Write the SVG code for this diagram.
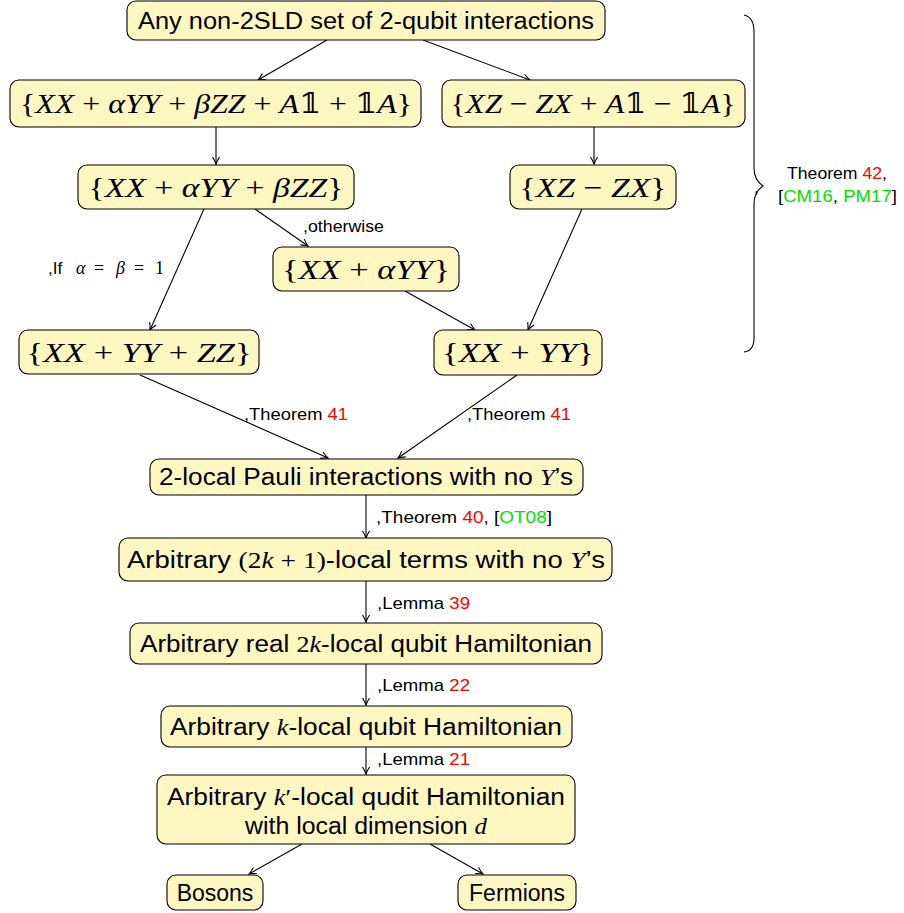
<svg xmlns="http://www.w3.org/2000/svg" width="904" height="913" viewBox="0 0 904 913">
<defs>
<style>
.box{fill:#fff7c2;stroke:#000;stroke-width:1.1}
.t{font-family:"Liberation Sans","DejaVu Sans",sans-serif;font-size:23px;fill:#000;text-anchor:middle}
.m{font-family:"Liberation Serif","DejaVu Serif",serif;font-size:28px;fill:#000;text-anchor:middle}
.i{font-style:italic}
.l{font-family:"Liberation Sans","DejaVu Sans",sans-serif;font-size:17px;fill:#000}
.r{fill:#ff0000}
.g{fill:#00e000}
.c{stroke:#000;stroke-width:1.1;fill:none;marker-end:url(#ah)}
</style>
<marker id="ah" viewBox="-8 -5 10 10" refX="0" refY="0" markerWidth="10" markerHeight="10" markerUnits="userSpaceOnUse" orient="auto">
<path d="M-7,-3.5 Q-3,-1 0,0 Q-3,1 -7,3.5" fill="none" stroke="#000" stroke-width="1.1"/>
</marker>
</defs>
<rect width="904" height="913" fill="#fff"/>

<g id="connectors">
<line class="c" x1="327" y1="40" x2="258" y2="80"/>
<line class="c" x1="423" y1="40" x2="530" y2="80"/>
<line class="c" x1="216" y1="127" x2="216" y2="164"/>
<line class="c" x1="594" y1="127" x2="594" y2="164"/>
<line class="c" x1="204" y1="209" x2="150" y2="330"/>
<line class="c" x1="255" y1="209" x2="308" y2="246"/>
<line class="c" x1="582" y1="209" x2="528" y2="330"/>
<line class="c" x1="405" y1="291" x2="475" y2="330"/>
<line class="c" x1="140" y1="375" x2="328" y2="458"/>
<line class="c" x1="517" y1="375" x2="398" y2="458"/>
<line class="c" x1="366" y1="495" x2="366" y2="538"/>
<line class="c" x1="366" y1="581" x2="366" y2="622"/>
<line class="c" x1="366" y1="664" x2="366" y2="705"/>
<line class="c" x1="366" y1="747" x2="366" y2="774"/>
<line class="c" x1="302" y1="844" x2="249" y2="874"/>
<line class="c" x1="430" y1="844" x2="483" y2="874"/>
<text class="l" x="303" y="232" textLength="81" lengthAdjust="spacingAndGlyphs">,otherwise</text>
<text class="l" x="48" y="274">,If<tspan x="76" font-family="Liberation Serif,serif" font-style="italic" font-size="18">α</tspan><tspan x="94" font-family="Liberation Serif,serif" font-size="18">=</tspan><tspan x="116" font-family="Liberation Serif,serif" font-style="italic" font-size="18">β</tspan><tspan x="134" font-family="Liberation Serif,serif" font-size="18">=</tspan><tspan x="155" font-family="Liberation Serif,serif" font-size="18">1</tspan></text>
<text class="l" x="244" y="420" textLength="104" lengthAdjust="spacingAndGlyphs">,Theorem <tspan class="r">41</tspan></text>
<text class="l" x="467" y="420" textLength="104" lengthAdjust="spacingAndGlyphs">,Theorem <tspan class="r">41</tspan></text>
<text class="l" x="376" y="523" textLength="176" lengthAdjust="spacingAndGlyphs">,Theorem <tspan class="r">40</tspan>, [<tspan class="g">OT08</tspan>]</text>
<text class="l" x="377" y="609" textLength="93" lengthAdjust="spacingAndGlyphs">,Lemma <tspan class="r">39</tspan></text>
<text class="l" x="377" y="691" textLength="93" lengthAdjust="spacingAndGlyphs">,Lemma <tspan class="r">22</tspan></text>
<text class="l" x="377" y="765" textLength="93" lengthAdjust="spacingAndGlyphs">,Lemma <tspan class="r">21</tspan></text>
</g>

<g id="brace">
<path d="M744,15 Q754,17 754,32 L754,168 Q754,180 763,186 Q754,192 754,204 L754,338 Q754,351 744,352" fill="none" stroke="#000" stroke-width="1.1"/>
<text class="l" x="754" y="193" font-size="10">,</text>
<text class="l" x="787" y="179" textLength="100" lengthAdjust="spacingAndGlyphs">Theorem <tspan class="r">42</tspan>,</text>
<text class="l" x="778" y="202" textLength="119" lengthAdjust="spacingAndGlyphs">[<tspan class="g">CM16</tspan>, <tspan class="g">PM17</tspan>]</text>
</g>

<g id="n1">
<rect class="box" x="127" y="1" width="478" height="39" rx="9"/>
<text class="t" x="366" y="29" textLength="456" lengthAdjust="spacingAndGlyphs">Any non-2SLD set of 2-qubit interactions</text>
</g>
<g id="n2">
<rect class="box" x="10" y="80" width="411" height="47" rx="9"/>
<text class="m" x="216" y="113" textLength="392" lengthAdjust="spacingAndGlyphs">{<tspan class="i">XX</tspan> + <tspan class="i">αYY</tspan> + <tspan class="i">βZZ</tspan> + <tspan class="i">A</tspan>𝟙 + 𝟙<tspan class="i">A</tspan>}</text>
</g>
<g id="n3">
<rect class="box" x="442" y="80" width="303" height="47" rx="9"/>
<text class="m" x="593" y="113" textLength="285" lengthAdjust="spacingAndGlyphs">{<tspan class="i">XZ</tspan> − <tspan class="i">ZX</tspan> + <tspan class="i">A</tspan>𝟙 − 𝟙<tspan class="i">A</tspan>}</text>
</g>
<g id="n4">
<rect class="box" x="78" y="165" width="276" height="44" rx="9"/>
<text class="m" x="216" y="197" textLength="255" lengthAdjust="spacingAndGlyphs">{<tspan class="i">XX</tspan> + <tspan class="i">αYY</tspan> + <tspan class="i">βZZ</tspan>}</text>
</g>
<g id="n5">
<rect class="box" x="510" y="165" width="166" height="44" rx="9"/>
<text class="m" x="593" y="197" textLength="147" lengthAdjust="spacingAndGlyphs">{<tspan class="i">XZ</tspan> − <tspan class="i">ZX</tspan>}</text>
</g>
<g id="n6">
<rect class="box" x="273" y="247" width="186" height="44" rx="9"/>
<text class="m" x="366" y="279" textLength="168" lengthAdjust="spacingAndGlyphs">{<tspan class="i">XX</tspan> + <tspan class="i">αYY</tspan>}</text>
</g>
<g id="n7">
<rect class="box" x="19" y="330" width="240" height="44" rx="9"/>
<text class="m" x="139" y="362" textLength="225" lengthAdjust="spacingAndGlyphs">{<tspan class="i">XX</tspan> + <tspan class="i">YY</tspan> + <tspan class="i">ZZ</tspan>}</text>
</g>
<g id="n8">
<rect class="box" x="434" y="330" width="168" height="45" rx="9"/>
<text class="m" x="518" y="362" textLength="152" lengthAdjust="spacingAndGlyphs">{<tspan class="i">XX</tspan> + <tspan class="i">YY</tspan>}</text>
</g>
<g id="n9">
<rect class="box" x="150" y="459" width="433" height="36" rx="9"/>
<text class="t" x="366" y="485" textLength="414" lengthAdjust="spacingAndGlyphs">2-local Pauli interactions with no <tspan font-family="Liberation Serif,serif" font-style="italic">Y</tspan>’s</text>
</g>
<g id="n10">
<rect class="box" x="119" y="538" width="493" height="43" rx="9"/>
<text class="t" x="366" y="568" textLength="478" lengthAdjust="spacingAndGlyphs">Arbitrary <tspan font-family="Liberation Serif,serif">(2</tspan><tspan font-family="Liberation Serif,serif" font-style="italic">k</tspan><tspan font-family="Liberation Serif,serif"> + 1)</tspan>-local terms with no <tspan font-family="Liberation Serif,serif" font-style="italic">Y</tspan>’s</text>
</g>
<g id="n11">
<rect class="box" x="130" y="623" width="472" height="41" rx="9"/>
<text class="t" x="366" y="652" textLength="452" lengthAdjust="spacingAndGlyphs">Arbitrary real <tspan font-family="Liberation Serif,serif">2</tspan><tspan font-family="Liberation Serif,serif" font-style="italic">k</tspan>-local qubit Hamiltonian</text>
</g>
<g id="n12">
<rect class="box" x="161" y="706" width="411" height="41" rx="9"/>
<text class="t" x="366" y="735" textLength="392" lengthAdjust="spacingAndGlyphs">Arbitrary <tspan font-family="Liberation Serif,serif" font-style="italic">k</tspan>-local qubit Hamiltonian</text>
</g>
<g id="n13">
<rect class="box" x="157" y="775" width="418" height="69" rx="9"/>
<text class="t" x="366" y="805" textLength="398" lengthAdjust="spacingAndGlyphs">Arbitrary <tspan font-family="Liberation Serif,serif" font-style="italic">k</tspan><tspan font-family="Liberation Serif,serif">′</tspan>-local qudit Hamiltonian</text>
<text class="t" x="366" y="834" textLength="242" lengthAdjust="spacingAndGlyphs">with local dimension <tspan font-family="Liberation Serif,serif" font-style="italic">d</tspan></text>
</g>
<g id="n14">
<rect class="box" x="167" y="875" width="96" height="35" rx="9"/>
<text class="t" x="215" y="901">Bosons</text>
</g>
<g id="n15">
<rect class="box" x="458" y="875" width="118" height="35" rx="9"/>
<text class="t" x="517" y="901">Fermions</text>
</g>
</svg>
